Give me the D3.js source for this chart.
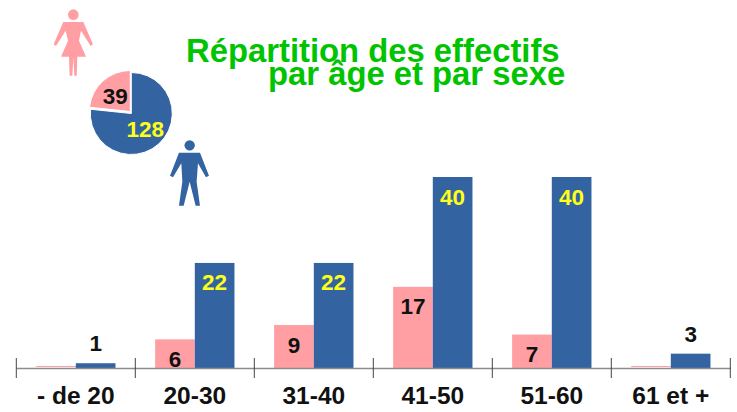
<!DOCTYPE html>
<html>
<head>
<meta charset="utf-8">
<script src="https://cdn.jsdelivr.net/npm/d3@7"></script>
<style>
html, body { margin: 0; padding: 0; background: #fff; }
text { font-family: "Liberation Sans", Arial, sans-serif; font-weight: bold; }
</style>
</head>
<body>
<div id="chart"></div>
<script>
var categories = ["- de 20", "20-30", "31-40", "41-50", "51-60", "61 et +"];
var femmes = [0, 6, 9, 17, 7, 0];
var hommes = [1, 22, 22, 40, 40, 3];
var totals = [39, 128];
var titleLines = ["Répartition des effectifs", "par âge et par sexe"];

var pink = "#ff9fa3", blue = "#3364a1", green = "#00c400", yellow = "#ffff19";

var svg = d3.select("#chart").append("svg")
    .attr("width", 737)
    .attr("height", 412)
    .style("display", "block");

var x = d3.scaleBand().domain(categories).range([16.3, 730.3]);
var sex = d3.scaleBand().domain(["f", "h"]).range([x.bandwidth() / 6, x.bandwidth() * 5 / 6]);
var y = d3.scaleLinear().domain([0, 40]).range([368, 177]);

// title
svg.append("text").attr("x", 186).attr("y", 62)
    .style("font-size", "32.8px").attr("fill", green).text(titleLines[0]);
svg.append("text").attr("x", 268).attr("y", 85)
    .style("font-size", "32.8px").attr("fill", green).text(titleLines[1]);

// bars
function drawBars(values, key, color) {
    svg.append("g").selectAll("rect").data(values).enter()
	.append("rect")
	.attr("x", function(d, i) { return x(categories[i]) + sex(key); })
	.attr("y", function(d) { return d == 0 ? y(0) - 2 : y(d); })
	.attr("width", sex.bandwidth())
	.attr("height", function(d) { return d == 0 ? 1 : y(0) - y(d); })
	.attr("fill", color);
}
drawBars(femmes, "f", pink);
drawBars(hommes, "h", blue);

// axis line + category labels
var axis = svg.append("g")
    .attr("transform", "translate(0,368)")
    .call(d3.axisBottom(x).tickSize(0).tickPadding(19));
axis.select(".domain").attr("stroke", "#8c8c8c").attr("stroke-width", 1.5);
axis.selectAll("text")
    .style("font-family", "'Liberation Sans', Arial, sans-serif")
    .style("font-weight", "bold")
    .style("font-size", "24.5px")
    .attr("fill", "#111");

// boundary ticks between the categories
var edges = categories.map(function(c) { return x(c); }).concat([x.range()[1]]);
svg.append("g").selectAll("line").data(edges).enter()
    .append("line")
    .attr("x1", function(d) { return d; })
    .attr("x2", function(d) { return d; })
    .attr("y1", 358)
    .attr("y2", 378)
    .attr("stroke", "#444")
    .attr("stroke-width", 1);

// value labels, inside the bar unless it is too short
function drawLabels(values, key, color) {
    var g = svg.append("g");
    values.forEach(function(d, i) {
	if (d == 0) return;
	g.append("text")
	    .attr("x", x(categories[i]) + sex(key) + sex.bandwidth() / 2)
	    .attr("y", d < 5 ? y(d) - 12 : y(d) + 27.5)
	    .attr("text-anchor", "middle")
	    .style("font-size", "22.5px")
	    .attr("fill", d < 5 ? "#111" : color)
	    .text(d);
    });
}
drawLabels(femmes, "f", "#111");
drawLabels(hommes, "h", yellow);

// pie
var pie = d3.pie().sort(null)
    .startAngle(-2 * Math.PI * totals[0] / d3.sum(totals))
    .endAngle(2 * Math.PI - 2 * Math.PI * totals[0] / d3.sum(totals));
var arc = d3.arc().innerRadius(0).outerRadius(41);
var pieG = svg.append("g").attr("transform", "translate(131.3,113.5)");
pieG.selectAll("path").data(pie(totals)).enter()
    .append("path")
    .attr("d", arc)
    .attr("transform", function(d, i) { return i == 0 ? "translate(-1,-2)" : null; })
    .attr("fill", function(d, i) { return i == 0 ? pink : blue; })
    .attr("stroke", "#fff")
    .attr("stroke-width", 1);
pieG.append("text").attr("x", -16).attr("y", -9.5).attr("text-anchor", "middle")
    .style("font-size", "22.5px").attr("fill", "#111").text(totals[0]);
pieG.append("text").attr("x", 14).attr("y", 23).attr("text-anchor", "middle")
    .style("font-size", "22.5px").attr("fill", yellow).text(totals[1]);

// woman and man icons
var woman = svg.append("g").attr("transform", "translate(30,0) scale(0.3333)").attr("fill", pink);
woman.append("circle").attr("cx", 130).attr("cy", 44).attr("r", 16);
woman.append("path").attr("d", "M100 66 L160 66 L189 133 L182 138 L153 92 L147 122 L168 170 L142 170 L140 227 L133 227 L130 172 L127 227 L119 227 L117 170 L93 170 L114 122 L107 92 L78 138 L71 133 Z");

var man = svg.append("g").attr("transform", "translate(30,0) scale(0.3333)").attr("fill", blue);
man.append("circle").attr("cx", 479).attr("cy", 436).attr("r", 15.5);
man.append("path").attr("d", "M447 458 L510 458 L537 527 L528 532 L504 490 L500 545 L510 617 L497 617 L479 545 L461 617 L447 617 L457 545 L454 490 L429 532 L420 527 Z");
</script>
</body>
</html>
